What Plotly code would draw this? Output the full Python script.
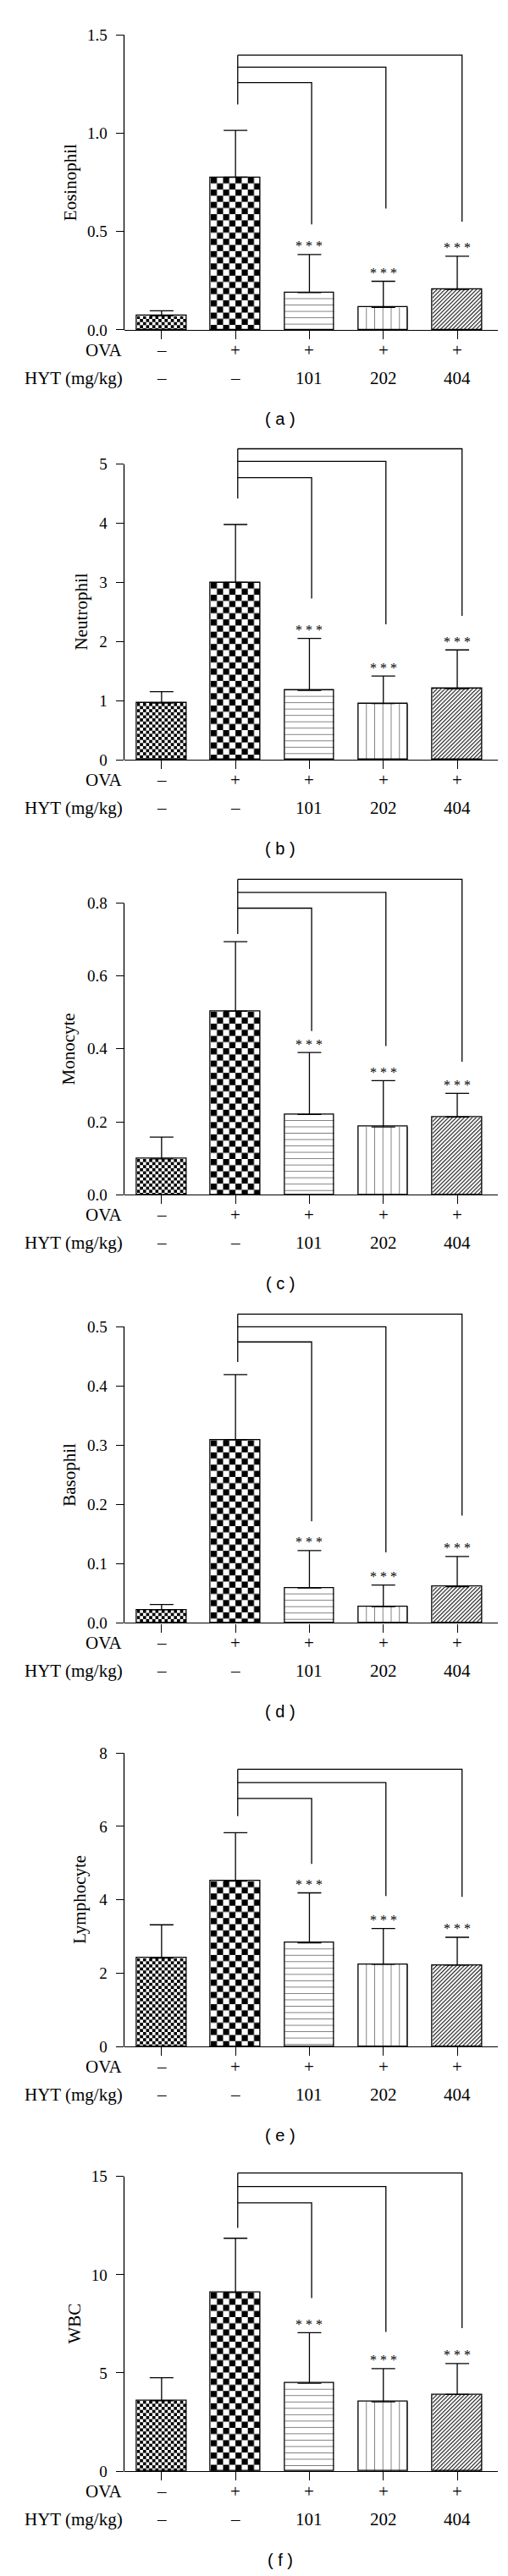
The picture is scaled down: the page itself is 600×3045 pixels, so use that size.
import base64
import plotly.graph_objects as go

# ---------------- data ----------------
ova_labels = ['–', '+', '+', '+', '+']
hyt_labels = ['–', '–', '101', '202', '404']
row_titles = ['OVA', 'HYT (mg/kg)']
panel_letters = ['a', 'b', 'c', 'd', 'e', 'f']
y_titles = ['Eosinophil', 'Neutrophil', 'Monocyte', 'Basophil', 'Lymphocyte', 'WBC']
y_tick_max = [1.5, 5, 0.8, 0.5, 8, 15]
y_tick_step = [0.5, 1, 0.2, 0.1, 2, 5]
y_tick_format = ['.1f', 'd', '.1f', '.1f', 'd', 'd']
star_flags = [False, False, True, True, True]
star_text = '* * *'

eos_mean = [0.071, 0.776, 0.189, 0.114, 0.206]
eos_err = [0.026, 0.238, 0.194, 0.133, 0.168]
eos_bracket_levels = [1.257, 1.336, 1.397]
eos_bracket_ends = [0.536, 0.617, 0.550]
eos_bracket_start = 1.146

neu_mean = [0.96, 3.00, 1.174, 0.95, 1.202]
neu_err = [0.19, 0.98, 0.879, 0.466, 0.656]
neu_bracket_levels = [4.772, 5.047, 5.261]
neu_bracket_ends = [2.728, 2.291, 2.433]
neu_bracket_start = 4.42

mono_mean = [0.098, 0.503, 0.220, 0.186, 0.213]
mono_err = [0.060, 0.191, 0.170, 0.127, 0.065]
mono_bracket_levels = [0.786, 0.829, 0.865]
mono_bracket_ends = [0.449, 0.408, 0.365]
mono_bracket_start = 0.715

baso_mean = [0.022, 0.3085, 0.059, 0.0275, 0.061]
baso_err = [0.009, 0.1105, 0.063, 0.0365, 0.051]
baso_bracket_levels = [0.474, 0.4995, 0.521]
baso_bracket_ends = [0.1716, 0.119, 0.181]
baso_bracket_start = 0.44

lym_mean = [2.41, 4.51, 2.825, 2.243, 2.22]
lym_err = [0.91, 1.32, 1.365, 0.977, 0.76]
lym_bracket_levels = [6.761, 7.197, 7.557]
lym_bracket_ends = [4.977, 4.104, 4.081]
lym_bracket_start = 6.28

wbc_mean = [3.59, 9.095, 4.476, 3.532, 3.904]
wbc_err = [1.17, 2.76, 2.574, 1.688, 1.573]
wbc_bracket_levels = [13.657, 14.486, 15.172]
wbc_bracket_ends = [8.809, 7.093, 7.279]
wbc_bracket_start = 12.384

panels = [
    (eos_mean, eos_err, eos_bracket_levels, eos_bracket_ends, eos_bracket_start),
    (neu_mean, neu_err, neu_bracket_levels, neu_bracket_ends, neu_bracket_start),
    (mono_mean, mono_err, mono_bracket_levels, mono_bracket_ends, mono_bracket_start),
    (baso_mean, baso_err, baso_bracket_levels, baso_bracket_ends, baso_bracket_start),
    (lym_mean, lym_err, lym_bracket_levels, lym_bracket_ends, lym_bracket_start),
    (wbc_mean, wbc_err, wbc_bracket_levels, wbc_bracket_ends, wbc_bracket_start),
]

# ---------------- layout constants (pixels) ----------------
W, H = 600, 3045
zero_px = [383.3, 893.3, 1409.3, 1917.3, 2420.0, 2923.7]
top_px = [33.3, 542.7, 1063.3, 1565.7, 2071.7, 2574.0]
title_x_px = [74.6, 88.0, 72.7, 74.6, 86.1, 79.6]
axis_x_px = 138.5
axis_right_px = 579.8
x_range = [-0.508, 4.547]
bar_w = 0.67
px_per_x = (axis_right_px - axis_x_px) / (x_range[1] - x_range[0])

SERIF = 'Liberation Serif, Times New Roman, serif'
SANS = 'Liberation Sans, Arial, sans-serif'
LW = 1.3
HATCH = '#1e1e1e'
bar_fills = ['check_fine', 'check_coarse', 'hlines', 'vlines', 'diag']


def fill_uri(kind, w, h):
    """SVG fill texture (checkerboard / hatch) sized to one bar in pixels."""
    if kind.startswith('check'):
        c = 3.65 if kind == 'check_fine' else 7.3
        pat = (f'<pattern id="p" width="{2*c}" height="{2*c}" patternUnits="userSpaceOnUse">'
               f'<rect width="{2*c}" height="{2*c}" fill="#fff"/>'
               f'<rect width="{c}" height="{c}" fill="#000"/>'
               f'<rect x="{c}" y="{c}" width="{c}" height="{c}" fill="#000"/></pattern>')
    elif kind == 'hlines':
        p = 7.55
        pat = (f'<pattern id="p" width="20" height="{p}" patternUnits="userSpaceOnUse">'
               f'<rect width="20" height="{p}" fill="#fff"/>'
               f'<rect y="{p-0.55}" width="20" height="1.1" fill="{HATCH}"/></pattern>')
    elif kind == 'vlines':
        p = w / 6.0
        pat = (f'<pattern id="p" width="{p}" height="20" patternUnits="userSpaceOnUse">'
               f'<rect width="{p}" height="20" fill="#fff"/>'
               f'<rect x="{p-0.55}" width="1.1" height="20" fill="{HATCH}"/></pattern>')
    else:  # diagonal "/"
        p = 3.3
        pat = (f'<pattern id="p" width="{p}" height="{p}" patternUnits="userSpaceOnUse" '
               f'patternTransform="rotate(45)">'
               f'<rect width="{p}" height="{p}" fill="#fff"/>'
               f'<rect x="0" width="1.15" height="{p}" fill="{HATCH}"/></pattern>')
    svg = (f'<svg xmlns="http://www.w3.org/2000/svg" width="{w:.3f}" height="{h:.3f}" '
           f'viewBox="0 0 {w:.3f} {h:.3f}" preserveAspectRatio="none">'
           f'<defs>{pat}</defs><rect width="{w:.3f}" height="{h:.3f}" fill="url(#p)"/></svg>')
    return 'data:image/svg+xml;base64,' + base64.b64encode(svg.encode()).decode()


fig = go.Figure()
shapes, annotations, images = [], [], []
layout_axes = {}
xs = list(range(len(ova_labels)))

for i, (mean, err, levels, ends, start) in enumerate(panels):
    n = i + 1
    sfx = '' if n == 1 else str(n)
    xa, ya = 'x' + sfx, 'y' + sfx
    extra = min(40.0, top_px[i])
    span = zero_px[i] - top_px[i]
    rng_top = y_tick_max[i] * (span + extra) / span
    px_per_y = span / y_tick_max[i]
    ticks = [round(j * y_tick_step[i], 6)
             for j in range(int(round(y_tick_max[i] / y_tick_step[i])) + 1)]

    fig.add_trace(go.Bar(
        x=xs, y=mean, width=bar_w, xaxis=xa, yaxis=ya, showlegend=False,
        marker=dict(color='rgba(0,0,0,0)', line=dict(color='black', width=LW)),
        error_y=dict(type='data', symmetric=False, array=err,
                     arrayminus=[0] * len(err), color='black',
                     thickness=LW, width=14),
    ))

    # bar fill textures, placed on each bar through the data axes
    for k in xs:
        images.append(dict(
            source=fill_uri(bar_fills[k], bar_w * px_per_x, mean[k] * px_per_y),
            xref=xa, yref=ya, x=k - bar_w / 2, y=mean[k],
            sizex=bar_w, sizey=mean[k], xanchor='left', yanchor='top',
            sizing='stretch', layer='below'))

    layout_axes['xaxis' + sfx] = dict(
        domain=[axis_x_px / W, axis_right_px / W], range=x_range,
        anchor=ya, showgrid=False, zeroline=False, showline=True,
        linecolor='black', linewidth=LW, tickmode='array', tickvals=xs,
        ticks='outside', ticklen=10, tickwidth=LW, tickcolor='black',
        showticklabels=False, fixedrange=True)
    layout_axes['yaxis' + sfx] = dict(
        domain=[1 - zero_px[i] / H, 1 - (top_px[i] - extra) / H],
        range=[0, rng_top], anchor=xa, showgrid=False, zeroline=False,
        showline=False, tickmode='array', tickvals=ticks,
        ticktext=[format(t, y_tick_format[i]) if y_tick_format[i] != 'd'
                  else str(int(t)) for t in ticks],
        ticks='outside', ticklen=9, tickwidth=LW, tickcolor='black',
        ticklabelstandoff=6,
        tickfont=dict(family=SERIF, size=19, color='black'), fixedrange=True)

    # y axis line up to the last tick
    shapes.append(dict(type='line', xref=xa + ' domain', yref=ya + ' domain',
                       x0=0, x1=0, y0=0, y1=y_tick_max[i] / rng_top,
                       line=dict(color='black', width=LW)))

    # significance brackets from group 1 to groups 2, 3, 4
    dx = [0.03, 0.035, 0.065]
    shapes.append(dict(type='line', xref=xa, yref=ya, x0=1 + 0.03, x1=1 + 0.03,
                       y0=start, y1=max(levels), line=dict(color='black', width=LW)))
    for j, tgt in enumerate([2, 3, 4]):
        xr = tgt + dx[j]
        shapes.append(dict(
            type='path', xref=xa, yref=ya,
            path=f'M {1 + 0.03},{levels[j]} L {xr},{levels[j]} L {xr},{ends[j]}',
            line=dict(color='black', width=LW)))

    # stars
    for k in xs:
        if star_flags[k]:
            annotations.append(dict(
                text=star_text, xref=xa, yref=ya, x=k, y=mean[k] + err[k],
                yanchor='middle', yshift=10, showarrow=False,
                font=dict(family=SERIF, size=16, color='black')))

    # y-axis title
    annotations.append(dict(
        text=y_titles[i], xref='paper', yref=ya, x=title_x_px[i] / W,
        y=y_tick_max[i] / 2, textangle=-90, xanchor='center', yanchor='middle',
        showarrow=False, font=dict(family=SERIF, size=21, color='black')))

    # condition rows
    for r, (labels, shift) in enumerate(((ova_labels, -24), (hyt_labels, -57))):
        annotations.append(dict(
            text=row_titles[r], xref='paper', yref=ya, x=axis_x_px / W, y=0,
            xanchor='right', yanchor='middle', yshift=shift, showarrow=False,
            font=dict(family=SERIF, size=21, color='black')))
        for k in xs:
            annotations.append(dict(
                text=labels[k], xref=xa, yref=ya, x=k, y=0,
                xanchor='center', yanchor='middle', yshift=shift, showarrow=False,
                font=dict(family=SERIF, size=21, color='black')))

    # panel letter
    annotations.append(dict(
        text=f'( {panel_letters[i]} )', xref='paper', yref='paper',
        x=322.6 / W, y=1 - (zero_px[i] + 105.5) / H, xanchor='center',
        yanchor='middle', showarrow=False,
        font=dict(family=SANS, size=20, color='black')))

fig.update_layout(
    width=W, height=H, margin=dict(l=0, r=0, t=0, b=0),
    paper_bgcolor='white', plot_bgcolor='rgba(0,0,0,0)',
    shapes=shapes, annotations=annotations, images=images,
    bargap=0, showlegend=False, **layout_axes)

fig.write_html('out.html')
